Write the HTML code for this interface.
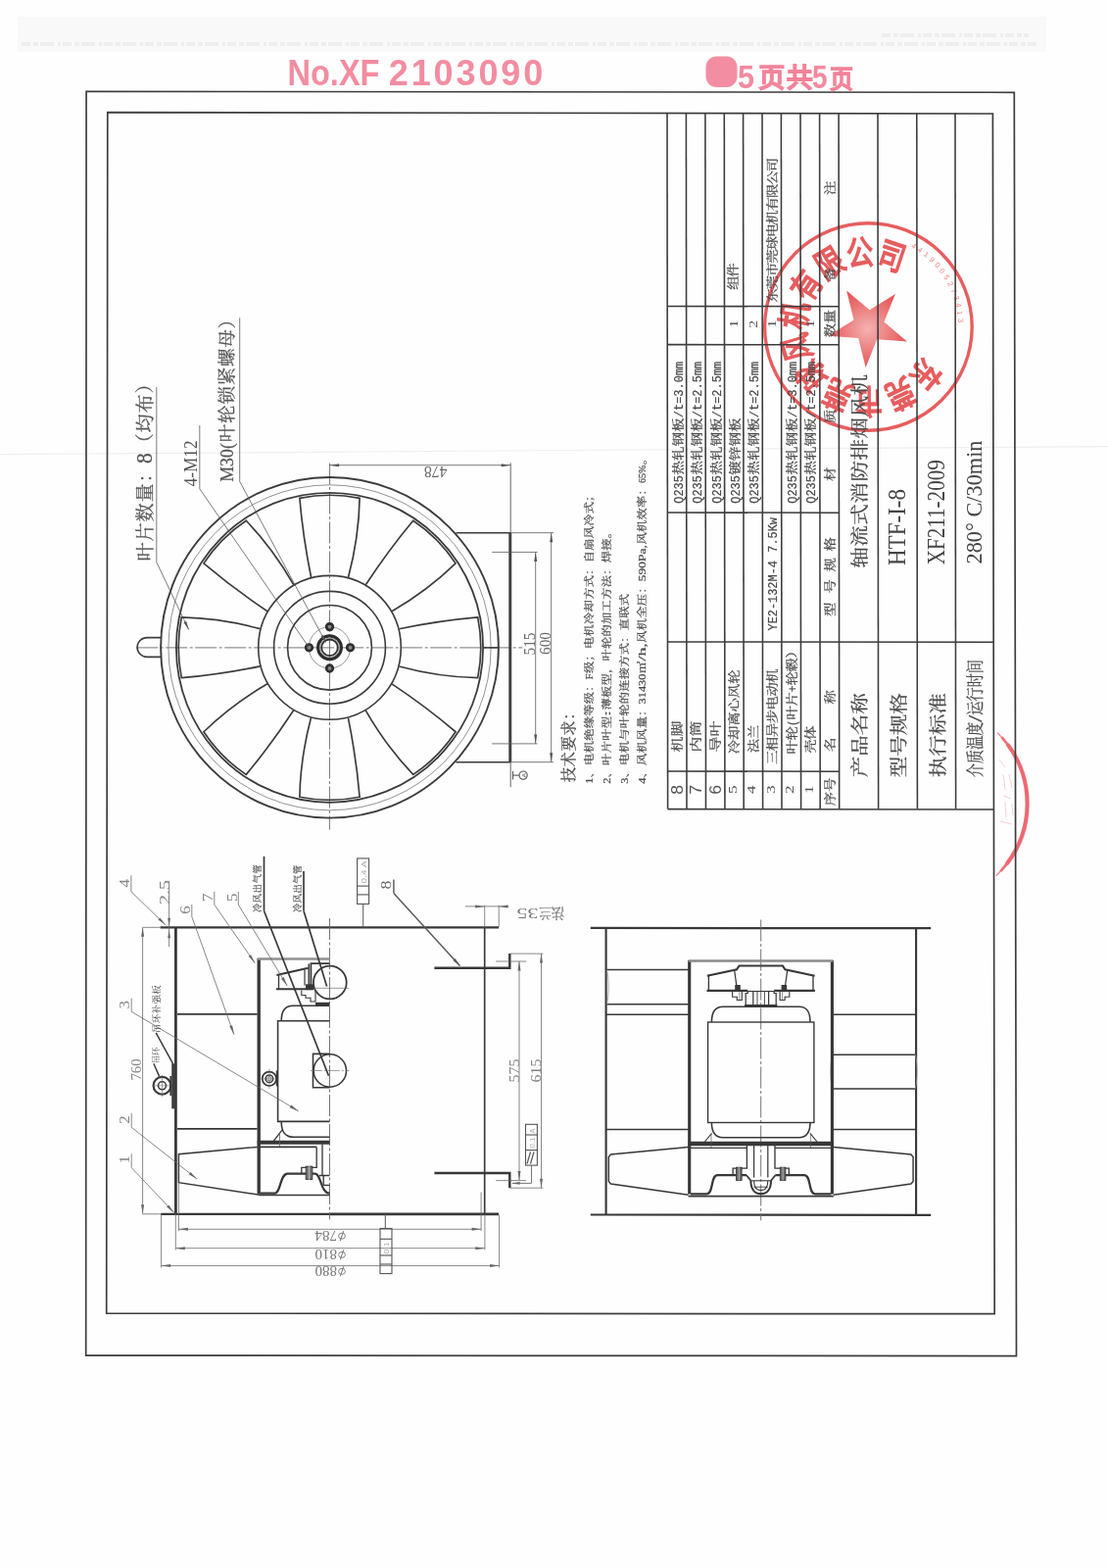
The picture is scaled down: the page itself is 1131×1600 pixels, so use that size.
<!DOCTYPE html>
<html lang="zh"><head><meta charset="utf-8"><title>XF2103090 - 5/5</title>
<style>html,body{margin:0;padding:0;background:#fff}svg{display:block;filter:blur(0.35px)}text{white-space:pre}</style>
</head><body>
<svg width="1131" height="1600" viewBox="0 0 1131 1600" fill="none" font-family="Liberation Serif, serif">
<defs><radialGradient id="starg" cx="0.5" cy="0.5" r="0.5"><stop offset="0" stop-color="#f3a3a3"/><stop offset="0.55" stop-color="#ea6464"/><stop offset="1" stop-color="#e03434"/></radialGradient></defs>
<rect width="1131" height="1600" fill="#fefefe"/>
<path d="M0 463.6L1131 455.6" stroke="#efeff2" stroke-width="1.2"/>
<rect x="18" y="17" width="1050" height="36" fill="#f9f9f9"/>
<g opacity="0.82">
<circle cx="886.4" cy="333.5" r="105.8" stroke="#e23a3c" stroke-width="3.36" fill="none"/>
<path d="M845.36 342.78L876.16 344.94L883.64 374.9L895.2 346.27L926.01 348.42L902.35 328.57L913.92 299.94L887.73 316.3L864.08 296.46L871.55 326.42z" fill="url(#starg)"/>
<g transform="translate(935.26 374.06) rotate(-230.3) scale(0.27 0.345)" fill="#e23a3c" stroke="#e23a3c" stroke-width="5"><text x="0" y="0" text-anchor="middle" font-family="Liberation Sans, Noto Sans CJK SC, sans-serif" font-size="100">东</text></g>
<g transform="translate(913.68 390.84) rotate(-205.44) scale(0.27 0.345)" fill="#e23a3c" stroke="#e23a3c" stroke-width="5"><text x="0" y="0" text-anchor="middle" font-family="Liberation Sans, Noto Sans CJK SC, sans-serif" font-size="100">莞</text></g>
<g transform="translate(887.04 397) rotate(-180.58) scale(0.27 0.345)" fill="#e23a3c" stroke="#e23a3c" stroke-width="5"><text x="0" y="0" text-anchor="middle" font-family="Liberation Sans, Noto Sans CJK SC, sans-serif" font-size="100">市</text></g>
<g transform="translate(860.29 391.38) rotate(-155.72) scale(0.27 0.345)" fill="#e23a3c" stroke="#e23a3c" stroke-width="5"><text x="0" y="0" text-anchor="middle" font-family="Liberation Sans, Noto Sans CJK SC, sans-serif" font-size="100">莞</text></g>
<g transform="translate(838.37 375.04) rotate(-130.86) scale(0.27 0.345)" fill="#e23a3c" stroke="#e23a3c" stroke-width="5"><text x="0" y="0" text-anchor="middle" font-family="Liberation Sans, Noto Sans CJK SC, sans-serif" font-size="100">球</text></g>
<g transform="translate(825.36 351) rotate(-106) scale(0.27 0.345)" fill="#e23a3c" stroke="#e23a3c" stroke-width="5"><text x="0" y="0" text-anchor="middle" font-family="Liberation Sans, Noto Sans CJK SC, sans-serif" font-size="100">风</text></g>
<g transform="translate(823.66 323.72) rotate(-81.14) scale(0.27 0.345)" fill="#e23a3c" stroke="#e23a3c" stroke-width="5"><text x="0" y="0" text-anchor="middle" font-family="Liberation Sans, Noto Sans CJK SC, sans-serif" font-size="100">机</text></g>
<g transform="translate(833.58 298.25) rotate(-56.28) scale(0.27 0.345)" fill="#e23a3c" stroke="#e23a3c" stroke-width="5"><text x="0" y="0" text-anchor="middle" font-family="Liberation Sans, Noto Sans CJK SC, sans-serif" font-size="100">有</text></g>
<g transform="translate(853.3 279.31) rotate(-31.42) scale(0.27 0.345)" fill="#e23a3c" stroke="#e23a3c" stroke-width="5"><text x="0" y="0" text-anchor="middle" font-family="Liberation Sans, Noto Sans CJK SC, sans-serif" font-size="100">限</text></g>
<g transform="translate(879.15 270.42) rotate(-6.56) scale(0.27 0.345)" fill="#e23a3c" stroke="#e23a3c" stroke-width="5"><text x="0" y="0" text-anchor="middle" font-family="Liberation Sans, Noto Sans CJK SC, sans-serif" font-size="100">公</text></g>
<g transform="translate(906.34 273.21) rotate(18.3) scale(0.27 0.345)" fill="#e23a3c" stroke="#e23a3c" stroke-width="5"><text x="0" y="0" text-anchor="middle" font-family="Liberation Sans, Noto Sans CJK SC, sans-serif" font-size="100">司</text></g>
<path id="serp" d="M929.59 252.27A92 92 0 0 1 967.63 376.69" />
<text font-family="Liberation Sans" font-size="7.5" fill="#e23a3c" opacity="0.8" letter-spacing="3.4"><textPath href="#serp">4419005273413</textPath></text>
</g>
<path d="M1018.39 747.96A101 101 0 0 1 1017.12 893.26" stroke="#ec6670" stroke-width="1.3" stroke-linecap="round" opacity="0.8"/>
<path d="M1023.24 753.08A101 101 0 0 1 1022.07 888.23" stroke="#ec6670" stroke-width="2.8" stroke-linecap="round" opacity="0.85"/>
<path d="M1029.31 760.63A101 101 0 0 1 1028.26 880.78" stroke="#ec6670" stroke-width="4.2" stroke-linecap="round" opacity="0.9"/>
<g stroke="#f29aa2" stroke-width="0.8" opacity="0.6"><path d="M1020 775l6 8M1024 790l2 16M1030 790l3 14M1024 812l8 3M1026 818l1 16M1033 820l1 12M1021 838l12 3"/></g>
<path d="M22 45H1058M900 36H1050" stroke="#eeeeee" stroke-width="4" stroke-dasharray="9 3 5 2 14 4 3 2"/>
<path d="M88.1 93.3L1035.3 94.3L1037.5 1383.6L87.7 1383.1z" stroke="#3c3c3c" stroke-width="1.68" fill="none"/>
<path d="M109.8 114.7L1013.4 116L1015.2 1340.7L108.7 1340.2z" stroke="#3c3c3c" stroke-width="1.68" fill="none"/>
<text transform="translate(293.5 87) rotate(0)" font-family="Liberation Sans" font-size="36" textLength="94" lengthAdjust="spacingAndGlyphs" fill="#f2849a" font-weight="bold" opacity="0.92">No.XF</text>
<text transform="translate(396.8 87) rotate(0)" font-family="Liberation Sans" font-size="36" textLength="157.5" lengthAdjust="spacing" fill="#f2849a" font-weight="bold" opacity="0.92">2103090</text>
<rect x="720.5" y="57.5" width="32" height="31.5" rx="11" ry="11" fill="#f2849a" opacity="0.92"/>
<text transform="translate(753 90) rotate(0)" font-family="Liberation Sans" font-size="34" textLength="17" lengthAdjust="spacingAndGlyphs" fill="#f2849a" font-weight="bold" opacity="0.95">5</text>
<g transform="translate(773.5 89) rotate(0) scale(0.2700 0.2700)" fill="#f2849a" stroke="#f2849a" stroke-width="7">
<text x="2.78 108.33" y="0" font-family="Liberation Sans, Noto Sans CJK SC, sans-serif" font-size="100">页共</text>
</g>
<text transform="translate(829 90) rotate(0)" font-family="Liberation Sans" font-size="34" textLength="15.5" lengthAdjust="spacingAndGlyphs" fill="#f2849a" font-weight="bold" opacity="0.95">5</text>
<g transform="translate(847 89.5) rotate(0) scale(0.2392 0.2600)" fill="#f2849a" stroke="#f2849a" stroke-width="7">
<text x="0" y="0" font-family="Liberation Sans, Noto Sans CJK SC, sans-serif" font-size="100">页</text>
</g>
<path d="M681 115.6L681.6 825.6" stroke="#3c3c3c" stroke-width="1.57"/>
<path d="M700.4 115.6L701 825.6" stroke="#3c3c3c" stroke-width="1.57"/>
<path d="M719.9 115.6L720.5 825.6" stroke="#3c3c3c" stroke-width="1.57"/>
<path d="M739.3 115.6L739.9 825.6" stroke="#3c3c3c" stroke-width="1.57"/>
<path d="M758.6 115.6L759.2 825.6" stroke="#3c3c3c" stroke-width="1.57"/>
<path d="M778 115.6L778.6 825.6" stroke="#3c3c3c" stroke-width="1.57"/>
<path d="M797.4 115.6L798 825.6" stroke="#3c3c3c" stroke-width="1.57"/>
<path d="M817 115.6L817.6 825.6" stroke="#3c3c3c" stroke-width="1.57"/>
<path d="M836.6 115.6L837.2 825.6" stroke="#3c3c3c" stroke-width="1.57"/>
<path d="M856.1 115.6L856.7 825.6" stroke="#3c3c3c" stroke-width="1.57"/>
<path d="M896 115.6L896.6 825.6" stroke="#3c3c3c" stroke-width="1.57"/>
<path d="M935.8 115.6L936.4 825.6" stroke="#3c3c3c" stroke-width="1.57"/>
<path d="M975 115.6L975.6 825.6" stroke="#3c3c3c" stroke-width="1.57"/>
<path d="M681.6 825.6L1014.6 826" stroke="#3c3c3c" stroke-width="1.57"/>
<path d="M681.3 312.5L856.3 312.7" stroke="#3c3c3c" stroke-width="1.57"/>
<path d="M681.3 351.6L856.3 351.8" stroke="#3c3c3c" stroke-width="1.57"/>
<path d="M681.3 523L856.3 523.2" stroke="#3c3c3c" stroke-width="1.57"/>
<path d="M681.3 787L856.3 787.2" stroke="#3c3c3c" stroke-width="1.57"/>
<path d="M681.5 655L1014.4 655.3" stroke="#3c3c3c" stroke-width="1.57"/>
<text transform="translate(696.9 810.8) rotate(-90)" font-family="Liberation Sans" font-size="17" textLength="9.8" lengthAdjust="spacingAndGlyphs" fill="#555">8</text>
<text transform="translate(716.3 810.8) rotate(-90)" font-family="Liberation Sans" font-size="17" textLength="9.8" lengthAdjust="spacingAndGlyphs" fill="#555">7</text>
<text transform="translate(735.9 810.8) rotate(-90)" font-family="Liberation Sans" font-size="17" textLength="9.8" lengthAdjust="spacingAndGlyphs" fill="#555">6</text>
<text transform="translate(752 810) rotate(-90)" font-family="Liberation Serif" font-size="13.5" textLength="8.6" lengthAdjust="spacingAndGlyphs" fill="#555">5</text>
<text transform="translate(771.4 810) rotate(-90)" font-family="Liberation Serif" font-size="13.5" textLength="8.6" lengthAdjust="spacingAndGlyphs" fill="#555">4</text>
<text transform="translate(790.8 810) rotate(-90)" font-family="Liberation Serif" font-size="13.5" textLength="8.6" lengthAdjust="spacingAndGlyphs" fill="#555">3</text>
<text transform="translate(810.2 810) rotate(-90)" font-family="Liberation Serif" font-size="13.5" textLength="8.6" lengthAdjust="spacingAndGlyphs" fill="#555">2</text>
<text transform="translate(829.7 810) rotate(-90)" font-family="Liberation Serif" font-size="13.5" textLength="8.6" lengthAdjust="spacingAndGlyphs" fill="#555">1</text>
<g transform="translate(695.5 767.5) rotate(-90) scale(0.1600 0.1250)" fill="#4a4a4a" stroke="#4a4a4a" stroke-width="1.76">
<text x="0 100" y="0" font-family="Liberation Serif, Noto Serif CJK SC, serif" font-size="100">机脚</text>
</g>
<g transform="translate(715 767.5) rotate(-90) scale(0.1600 0.1250)" fill="#4a4a4a" stroke="#4a4a4a" stroke-width="1.76">
<text x="0 100" y="0" font-family="Liberation Serif, Noto Serif CJK SC, serif" font-size="100">内筒</text>
</g>
<g transform="translate(735 767.5) rotate(-90) scale(0.1600 0.1250)" fill="#4a4a4a" stroke="#4a4a4a" stroke-width="1.76">
<text x="0 100" y="0" font-family="Liberation Serif, Noto Serif CJK SC, serif" font-size="100">导叶</text>
</g>
<g transform="translate(754.4 769.3) rotate(-90) scale(0.1440 0.1200)" fill="#4a4a4a" stroke="#4a4a4a" stroke-width="1.83">
<text x="-0.35 98.96 198.26 297.57 396.88 496.18" y="0" font-family="Liberation Serif, Noto Serif CJK SC, serif" font-size="100">冷却离心风轮</text>
</g>
<g transform="translate(773.8 768.3) rotate(-90) scale(0.1440 0.1200)" fill="#4a4a4a" stroke="#4a4a4a" stroke-width="1.83">
<text x="-0.35 98.96" y="0" font-family="Liberation Serif, Noto Serif CJK SC, serif" font-size="100">法兰</text>
</g>
<g transform="translate(793.4 779.8) rotate(-90) scale(0.1440 0.1200)" fill="#4a4a4a" stroke="#4a4a4a" stroke-width="1.83">
<text x="-1.74 94.79 191.32 287.85 384.38 480.9 577.43" y="0" font-family="Liberation Serif, Noto Serif CJK SC, serif" font-size="100">三相异步电动机</text>
</g>
<g transform="translate(812.8 769.3) rotate(-90) scale(0.1440 0.1200)" fill="#4a4a4a" stroke="#4a4a4a" stroke-width="1.83">
<text x="-1.39 95.83" y="0" font-family="Liberation Serif, Noto Serif CJK SC, serif" font-size="100">叶轮</text>
<text x="194.44" font-family="Liberation Mono" font-size="100" textLength="47.88" lengthAdjust="spacingAndGlyphs">(</text>
<text x="241.67 338.89" y="0" font-family="Liberation Serif, Noto Serif CJK SC, serif" font-size="100">叶片</text>
<text x="437.5" font-family="Liberation Mono" font-size="100" textLength="47.88" lengthAdjust="spacingAndGlyphs">+</text>
<text x="484.72 581.94 679.17" y="0" font-family="Liberation Serif, Noto Serif CJK SC, serif" font-size="100">轮毂）</text>
</g>
<g transform="translate(832.2 768.3) rotate(-90) scale(0.1440 0.1200)" fill="#4a4a4a" stroke="#4a4a4a" stroke-width="1.83">
<text x="-2.78 91.67" y="0" font-family="Liberation Serif, Noto Serif CJK SC, serif" font-size="100">壳体</text>
</g>
<g transform="translate(696.6 513.8) rotate(-90) scale(0.1440 0.1200)" fill="#4a4a4a" stroke="#4a4a4a" stroke-width="1.83">
<text x="0" font-family="Liberation Mono" font-size="100" textLength="199.74" lengthAdjust="spacingAndGlyphs">Q235</text>
<text x="203.47 304.86 406.25 507.64" y="0" font-family="Liberation Serif, Noto Serif CJK SC, serif" font-size="100">热轧钢板</text>
<text x="608.33" font-family="Liberation Mono" font-size="100" textLength="399.47" lengthAdjust="spacingAndGlyphs">/t=3.0mm</text>
</g>
<g transform="translate(716 513.8) rotate(-90) scale(0.1440 0.1200)" fill="#4a4a4a" stroke="#4a4a4a" stroke-width="1.83">
<text x="0" font-family="Liberation Mono" font-size="100" textLength="199.74" lengthAdjust="spacingAndGlyphs">Q235</text>
<text x="203.47 304.86 406.25 507.64" y="0" font-family="Liberation Serif, Noto Serif CJK SC, serif" font-size="100">热轧钢板</text>
<text x="608.33" font-family="Liberation Mono" font-size="100" textLength="399.47" lengthAdjust="spacingAndGlyphs">/t=2.5mm</text>
</g>
<g transform="translate(735.6 513.8) rotate(-90) scale(0.1440 0.1200)" fill="#4a4a4a" stroke="#4a4a4a" stroke-width="1.83">
<text x="0" font-family="Liberation Mono" font-size="100" textLength="199.74" lengthAdjust="spacingAndGlyphs">Q235</text>
<text x="203.47 304.86 406.25 507.64" y="0" font-family="Liberation Serif, Noto Serif CJK SC, serif" font-size="100">热轧钢板</text>
<text x="608.33" font-family="Liberation Mono" font-size="100" textLength="399.47" lengthAdjust="spacingAndGlyphs">/t=2.5mm</text>
</g>
<g transform="translate(754.6 513.8) rotate(-90) scale(0.1440 0.1200)" fill="#4a4a4a" stroke="#4a4a4a" stroke-width="1.83">
<text x="0" font-family="Liberation Mono" font-size="100" textLength="199.74" lengthAdjust="spacingAndGlyphs">Q235</text>
<text x="203.47 304.86 406.25 507.64" y="0" font-family="Liberation Serif, Noto Serif CJK SC, serif" font-size="100">镀锌钢板</text>
</g>
<g transform="translate(774 513.8) rotate(-90) scale(0.1440 0.1200)" fill="#4a4a4a" stroke="#4a4a4a" stroke-width="1.83">
<text x="0" font-family="Liberation Mono" font-size="100" textLength="199.74" lengthAdjust="spacingAndGlyphs">Q235</text>
<text x="203.47 304.86 406.25 507.64" y="0" font-family="Liberation Serif, Noto Serif CJK SC, serif" font-size="100">热轧钢板</text>
<text x="608.33" font-family="Liberation Mono" font-size="100" textLength="399.47" lengthAdjust="spacingAndGlyphs">/t=2.5mm</text>
</g>
<g transform="translate(812.8 513.8) rotate(-90) scale(0.1440 0.1200)" fill="#4a4a4a" stroke="#4a4a4a" stroke-width="1.83">
<text x="0" font-family="Liberation Mono" font-size="100" textLength="199.74" lengthAdjust="spacingAndGlyphs">Q235</text>
<text x="203.47 304.86 406.25 507.64" y="0" font-family="Liberation Serif, Noto Serif CJK SC, serif" font-size="100">热轧钢板</text>
<text x="608.33" font-family="Liberation Mono" font-size="100" textLength="399.47" lengthAdjust="spacingAndGlyphs">/t=3.0mm</text>
</g>
<g transform="translate(832.3 513.8) rotate(-90) scale(0.1440 0.1200)" fill="#4a4a4a" stroke="#4a4a4a" stroke-width="1.83">
<text x="0" font-family="Liberation Mono" font-size="100" textLength="199.74" lengthAdjust="spacingAndGlyphs">Q235</text>
<text x="203.47 304.86 406.25 507.64" y="0" font-family="Liberation Serif, Noto Serif CJK SC, serif" font-size="100">热轧钢板</text>
<text x="608.33" font-family="Liberation Mono" font-size="100" textLength="399.47" lengthAdjust="spacingAndGlyphs">/t=2.5mm</text>
</g>
<g transform="translate(793 643.5) rotate(-90) scale(0.1440 0.1200)" fill="#4a4a4a" stroke="#4a4a4a" stroke-width="1.83">
<text x="0" font-family="Liberation Mono" font-size="100" textLength="495.92" lengthAdjust="spacingAndGlyphs">YE2-132M-4</text>
<text x="553.82" font-family="Liberation Mono" font-size="100" textLength="247.96" lengthAdjust="spacingAndGlyphs">7.5Kw</text>
</g>
<text transform="translate(753.4 334.5) rotate(-90)" font-family="Liberation Serif" font-size="13.5" textLength="8" lengthAdjust="spacingAndGlyphs" fill="#555">1</text>
<text transform="translate(773 334.8) rotate(-90)" font-family="Liberation Serif" font-size="13.5" textLength="8" lengthAdjust="spacingAndGlyphs" fill="#555">2</text>
<text transform="translate(792.2 334.5) rotate(-90)" font-family="Liberation Serif" font-size="13.5" textLength="8" lengthAdjust="spacingAndGlyphs" fill="#555">1</text>
<text transform="translate(831.2 334.5) rotate(-90)" font-family="Liberation Serif" font-size="13.5" textLength="8" lengthAdjust="spacingAndGlyphs" fill="#555">1</text>
<g transform="translate(753.2 295) rotate(-90) scale(0.1440 0.1200)" fill="#4a4a4a" stroke="#4a4a4a" stroke-width="1.83">
<text x="-4.86 85.42" y="0" font-family="Liberation Serif, Noto Serif CJK SC, serif" font-size="100">组件</text>
</g>
<g transform="translate(793 308.2) rotate(-90) scale(0.1440 0.1200)" fill="#4a4a4a" stroke="#4a4a4a" stroke-width="1.83">
<text x="-3.65 89.06 181.77 274.48 367.19 459.9 552.6 645.31 738.02 830.73 923.44" y="0" font-family="Liberation Serif, Noto Serif CJK SC, serif" font-size="100">东莞市莞球电机有限公司</text>
</g>
<g transform="translate(851.6 822.3) rotate(-90) scale(0.1440 0.1200)" fill="#4a4a4a" stroke="#4a4a4a" stroke-width="1.83">
<text x="-0.35 98.96" y="0" font-family="Liberation Serif, Noto Serif CJK SC, serif" font-size="100">序号</text>
</g>
<g transform="translate(851.6 767) rotate(-90) scale(0.1440 0.1200)" fill="#4a4a4a" stroke="#4a4a4a" stroke-width="1.83">
<text x="0" y="0" font-family="Liberation Serif, Noto Serif CJK SC, serif" font-size="100">名</text>
</g>
<g transform="translate(851.6 718.5) rotate(-90) scale(0.1440 0.1200)" fill="#4a4a4a" stroke="#4a4a4a" stroke-width="1.83">
<text x="0" y="0" font-family="Liberation Serif, Noto Serif CJK SC, serif" font-size="100">称</text>
</g>
<g transform="translate(851.6 629) rotate(-90) scale(0.1440 0.1200)" fill="#4a4a4a" stroke="#4a4a4a" stroke-width="1.83">
<text x="0" y="0" font-family="Liberation Serif, Noto Serif CJK SC, serif" font-size="100">型</text>
</g>
<g transform="translate(851.6 605.5) rotate(-90) scale(0.1440 0.1200)" fill="#4a4a4a" stroke="#4a4a4a" stroke-width="1.83">
<text x="0" y="0" font-family="Liberation Serif, Noto Serif CJK SC, serif" font-size="100">号</text>
</g>
<g transform="translate(851.6 583.5) rotate(-90) scale(0.1440 0.1200)" fill="#4a4a4a" stroke="#4a4a4a" stroke-width="1.83">
<text x="0" y="0" font-family="Liberation Serif, Noto Serif CJK SC, serif" font-size="100">规</text>
</g>
<g transform="translate(851.6 562.5) rotate(-90) scale(0.1440 0.1200)" fill="#4a4a4a" stroke="#4a4a4a" stroke-width="1.83">
<text x="0" y="0" font-family="Liberation Serif, Noto Serif CJK SC, serif" font-size="100">格</text>
</g>
<g transform="translate(851.6 491) rotate(-90) scale(0.1440 0.1200)" fill="#4a4a4a" stroke="#4a4a4a" stroke-width="1.83">
<text x="0" y="0" font-family="Liberation Serif, Noto Serif CJK SC, serif" font-size="100">材</text>
</g>
<g transform="translate(851.6 432) rotate(-90) scale(0.1440 0.1200)" fill="#4a4a4a" stroke="#4a4a4a" stroke-width="1.83">
<text x="0" y="0" font-family="Liberation Serif, Noto Serif CJK SC, serif" font-size="100">质</text>
</g>
<g transform="translate(851.6 344) rotate(-90) scale(0.1440 0.1200)" fill="#4a4a4a" stroke="#4a4a4a" stroke-width="1.83">
<text x="-1.39 95.83" y="0" font-family="Liberation Serif, Noto Serif CJK SC, serif" font-size="100">数量</text>
</g>
<g transform="translate(851.6 287.3) rotate(-90) scale(0.1440 0.1200)" fill="#4a4a4a" stroke="#4a4a4a" stroke-width="1.83">
<text x="0" y="0" font-family="Liberation Serif, Noto Serif CJK SC, serif" font-size="100">备</text>
</g>
<g transform="translate(851.6 199) rotate(-90) scale(0.1440 0.1200)" fill="#4a4a4a" stroke="#4a4a4a" stroke-width="1.83">
<text x="0" y="0" font-family="Liberation Serif, Noto Serif CJK SC, serif" font-size="100">注</text>
</g>
<g transform="translate(884 793.3) rotate(-90) scale(0.2160 0.1800)" fill="#4a4a4a" stroke="#4a4a4a" stroke-width="1.22">
<text x="-0.23 99.31 198.84 298.38" y="0" font-family="Liberation Serif, Noto Serif CJK SC, serif" font-size="100">产品名称</text>
</g>
<g transform="translate(923.8 793.3) rotate(-90) scale(0.2160 0.1800)" fill="#4a4a4a" stroke="#4a4a4a" stroke-width="1.22">
<text x="-0.23 99.31 198.84 298.38" y="0" font-family="Liberation Serif, Noto Serif CJK SC, serif" font-size="100">型号规格</text>
</g>
<g transform="translate(963.6 793.3) rotate(-90) scale(0.2160 0.1800)" fill="#4a4a4a" stroke="#4a4a4a" stroke-width="1.22">
<text x="-0.23 99.31 198.84 298.38" y="0" font-family="Liberation Serif, Noto Serif CJK SC, serif" font-size="100">执行标准</text>
</g>
<g transform="translate(1002 793.3) rotate(-90) scale(0.1422 0.1800)" fill="#4a4a4a" stroke="#4a4a4a" stroke-width="1.22">
<text x="-0.25 99.26 198.77 298.28" y="0" font-family="Liberation Serif, Noto Serif CJK SC, serif" font-size="100">介质温度</text>
<text x="398.03" font-family="Liberation Serif" font-size="100" textLength="49.01" lengthAdjust="spacingAndGlyphs">/</text>
<text x="447.54 547.05 646.55 746.06" y="0" font-family="Liberation Serif, Noto Serif CJK SC, serif" font-size="100">运行时间</text>
</g>
<g transform="translate(884 580) rotate(-90) scale(0.2160 0.1800)" fill="#4a4a4a" stroke="#4a4a4a" stroke-width="1.22">
<text x="1.04 103.13 205.21 307.29 409.38 511.46 613.54 715.63 817.71" y="0" font-family="Liberation Serif, Noto Serif CJK SC, serif" font-size="100">轴流式消防排烟风机</text>
</g>
<text transform="translate(924.4 577) rotate(-90)" font-family="Liberation Serif" font-size="25" textLength="78" lengthAdjust="spacingAndGlyphs" fill="#444">HTF-I-8</text>
<text transform="translate(964.2 576.2) rotate(-90)" font-family="Liberation Serif" font-size="25" textLength="107" lengthAdjust="spacingAndGlyphs" fill="#444">XF211-2009</text>
<text transform="translate(1001.8 575.5) rotate(-90)" font-family="Liberation Serif" font-size="24" textLength="126" lengthAdjust="spacingAndGlyphs" fill="#444">280° C/30min</text>
<path d="M139.2 660.9L533.3 660.9" stroke="#666" stroke-width="0.9" stroke-dasharray="22 2.5 3 2.5"/>
<path d="M336.6 472.5L336.4 846.7" stroke="#666" stroke-width="0.9" stroke-dasharray="22 2.5 3 2.5"/>
<ellipse cx="336.5" cy="660.8" rx="172.4" ry="173.8" stroke="#3c3c3c" stroke-width="1.9" fill="none"/>
<ellipse cx="336.5" cy="660.8" rx="164.6" ry="166" stroke="#777" stroke-width="0.8" fill="none"/>
<ellipse cx="336.5" cy="660.8" rx="156.6" ry="158" stroke="#3c3c3c" stroke-width="1.8" fill="none"/>
<ellipse cx="336.5" cy="660.8" rx="72.81" ry="73.4" stroke="#3c3c3c" stroke-width="1.6" fill="none"/>
<ellipse cx="336.5" cy="660.8" rx="56.94" ry="57.4" stroke="#3c3c3c" stroke-width="1.6" fill="none"/>
<ellipse cx="336.5" cy="660.8" rx="42.95" ry="43.3" stroke="#3c3c3c" stroke-width="1.6" fill="none"/>
<circle cx="336.5" cy="660.8" r="21.2" stroke="#666" stroke-width="0.67" fill="none"/>
<circle cx="357.53" cy="660.8" r="3.3" stroke="#2e2e2e" stroke-width="2.69" fill="#888"/>
<circle cx="336.5" cy="639.6" r="3.3" stroke="#2e2e2e" stroke-width="2.69" fill="#888"/>
<circle cx="315.47" cy="660.8" r="3.3" stroke="#2e2e2e" stroke-width="2.69" fill="#888"/>
<circle cx="336.5" cy="682" r="3.3" stroke="#2e2e2e" stroke-width="2.69" fill="#888"/>
<circle cx="336.5" cy="660.8" r="11.9" stroke="#2e2e2e" stroke-width="3.14" fill="none"/>
<circle cx="336.5" cy="660.8" r="9.7" stroke="#999" stroke-width="0.9" fill="none"/>
<circle cx="336.5" cy="660.8" r="8.3" stroke="#2e2e2e" stroke-width="1.79" fill="none"/>
<path d="M493.2 660.9L508.8 660.9" stroke="#3c3c3c" stroke-width="1.57"/>
<path d="M317.62 589.29Q309.25 548.1 305.88 508.39A154.26 155.5 0 0 1 367.12 508.39Q366.28 548.75 355.5 589.32" stroke="#3c3c3c" stroke-width="1.68" fill="none"/>
<path d="M272.99 623.69Q238.18 600.54 207.94 574.86A154.26 155.5 0 0 1 251.25 531.21Q278.96 560.34 299.8 596.71" stroke="#3c3c3c" stroke-width="1.68" fill="none"/>
<path d="M265.56 679.83Q224.7 688.27 185.31 691.67A154.26 155.5 0 0 1 185.31 629.93Q225.35 630.78 265.59 641.65" stroke="#3c3c3c" stroke-width="1.68" fill="none"/>
<path d="M299.69 724.82Q276.72 759.92 251.25 790.39A154.26 155.5 0 0 1 207.94 746.74Q236.84 718.8 272.93 697.8" stroke="#3c3c3c" stroke-width="1.68" fill="none"/>
<path d="M355.38 732.31Q363.75 773.5 367.12 813.21A154.26 155.5 0 0 1 305.88 813.21Q306.72 772.85 317.5 732.28" stroke="#3c3c3c" stroke-width="1.68" fill="none"/>
<path d="M400.01 697.91Q434.82 721.06 465.06 746.74A154.26 155.5 0 0 1 421.75 790.39Q394.04 761.26 373.2 724.89" stroke="#3c3c3c" stroke-width="1.68" fill="none"/>
<path d="M407.44 641.77Q448.3 633.33 487.69 629.93A154.26 155.5 0 0 1 487.69 691.67Q447.65 690.82 407.41 679.95" stroke="#3c3c3c" stroke-width="1.68" fill="none"/>
<path d="M373.31 596.78Q396.28 561.68 421.75 531.21A154.26 155.5 0 0 1 465.06 574.86Q436.16 602.8 400.07 623.8" stroke="#3c3c3c" stroke-width="1.68" fill="none"/>
<path d="M164.3 650.6H150A9.9 9.9 0 0 0 150 670.4H164.3" stroke="#3c3c3c" stroke-width="1.57" fill="none"/>
<path d="M465.4 543.7L521 543.7" stroke="#3c3c3c" stroke-width="1.57"/>
<path d="M465.4 777.7L521 777.7" stroke="#3c3c3c" stroke-width="1.57"/>
<path d="M520.8 543.7L520.8 777.7" stroke="#333" stroke-width="2.91"/>
<path d="M521.2 472.3L521.2 803.2" stroke="#555" stroke-width="0.9"/>
<path d="M521 543.7L565.1 543.7" stroke="#555" stroke-width="0.78"/>
<path d="M521 777.7L565.1 777.7" stroke="#555" stroke-width="0.78"/>
<path d="M502.1 563.4L548.5 563.4" stroke="#555" stroke-width="0.78"/>
<path d="M502.1 758.9L548.5 758.9" stroke="#555" stroke-width="0.78"/>
<path d="M546.7 563.4L546.7 758.9" stroke="#555" stroke-width="0.78"/>
<path d="M546.7 563.4L548.2 572.9L545.2 572.9z" fill="#555"/>
<path d="M546.7 758.9L545.2 749.4L548.2 749.4z" fill="#555"/>
<path d="M562.7 543.7L562.7 777.7" stroke="#555" stroke-width="0.78"/>
<path d="M562.7 543.7L564.2 553.2L561.2 553.2z" fill="#555"/>
<path d="M562.7 777.7L561.2 768.2L564.2 768.2z" fill="#555"/>
<text transform="translate(546 668.5) rotate(-90)" font-family="Liberation Serif" font-size="16.8" textLength="23" lengthAdjust="spacingAndGlyphs" fill="#6a6a6a">515</text>
<text transform="translate(562 668) rotate(-90)" font-family="Liberation Serif" font-size="16.8" textLength="23" lengthAdjust="spacingAndGlyphs" fill="#6a6a6a">600</text>
<path d="M336.5 474.7L521.2 474.7" stroke="#555" stroke-width="0.78"/>
<path d="M336.6 474.7L346.1 473.2L346.1 476.2z" fill="#555"/>
<path d="M521.2 474.7L511.7 476.2L511.7 473.2z" fill="#555"/>
<text transform="translate(456.4 476) rotate(180)" font-family="Liberation Serif" font-size="16.5" textLength="23.6" lengthAdjust="spacingAndGlyphs" fill="#6a6a6a">478</text>
<path d="M523.5 786.8L523.5 795.4" stroke="#555" stroke-width="1.12"/>
<path d="M523.5 791.1L530 791.1" stroke="#555" stroke-width="1.12"/>
<circle cx="534.1" cy="791.1" r="4.1" stroke="#555" stroke-width="1.12" fill="none"/>
<text transform="translate(536.5 793.4) rotate(-90)" font-family="Liberation Sans" font-size="6" textLength="4.6" lengthAdjust="spacingAndGlyphs" fill="#555">A</text>
<path d="M159.8 395.1L159.8 573.7" stroke="#555" stroke-width="0.78"/>
<path d="M159.8 573.7L192.6 642.4" stroke="#555" stroke-width="0.78"/>
<path d="M192.9 643L187.45 635.07L190.16 633.78z" fill="#555"/>
<g transform="translate(155.2 572.9) rotate(-90) scale(0.1920 0.1920)" fill="#555" stroke="#555" stroke-width="1.15">
<text x="2.08 106.25 210.42 314.58 418.75" y="0" font-family="Liberation Serif, Noto Serif CJK SC, serif" font-size="100">叶片数量：</text>
<text x="520.83" font-family="Liberation Serif" font-size="115" textLength="56.43" lengthAdjust="spacingAndGlyphs">8</text>
<text x="580.21 684.38 788.54 892.71" y="0" font-family="Liberation Serif, Noto Serif CJK SC, serif" font-size="100">（均布）</text>
</g>
<path d="M203.8 434.1L203.8 498.8" stroke="#555" stroke-width="0.78"/>
<path d="M203.8 498.8L315.3 660.5" stroke="#555" stroke-width="0.78"/>
<text transform="translate(201.3 496.3) rotate(-90)" font-family="Liberation Serif" font-size="19" textLength="46.8" lengthAdjust="spacingAndGlyphs" fill="#555">4-M12</text>
<path d="M244.7 324.4L244.7 491.3" stroke="#555" stroke-width="0.78"/>
<path d="M244.7 491.3L332.5 655.5" stroke="#555" stroke-width="0.78"/>
<path d="M332.8 656L327.56 649.16L330.03 647.84z" fill="#555"/>
<g transform="translate(238 491.7) rotate(-90) scale(0.1860 0.1860)" fill="#555" stroke="#555" stroke-width="1.18">
<text x="0" font-family="Liberation Serif" font-size="100" textLength="212.59" lengthAdjust="spacingAndGlyphs">M30(</text>
<text x="217.71 321.47 425.24 529 632.76 736.53 840.29" y="0" font-family="Liberation Serif, Noto Serif CJK SC, serif" font-size="100">叶轮锁紧螺母）</text>
</g>
<g transform="translate(585.9 798.6) rotate(-90) scale(0.1540 0.1540)" fill="#4a4a4a" stroke="#4a4a4a" stroke-width="1.43">
<text x="1.62 104.87 208.12 311.36 414.61" y="0" font-family="Liberation Serif, Noto Serif CJK SC, serif" font-size="100">技术要求：</text>
</g>
<g transform="translate(605 799.8) rotate(-90) scale(0.1224 0.1020)" fill="#4d4d4d" stroke="#4d4d4d" stroke-width="2.16">
<text x="0" font-family="Liberation Serif" font-size="105" textLength="50.38" lengthAdjust="spacingAndGlyphs">1</text>
<text x="52.29 154.58 256.86 359.15 461.44 563.73 666.01 768.3" y="0" font-family="Liberation Serif, Noto Serif CJK SC, serif" font-size="100">、电机绝缘等级：</text>
<text x="869.44" font-family="Liberation Serif" font-size="105" textLength="50.38" lengthAdjust="spacingAndGlyphs">F</text>
<text x="921.73 1024.02 1126.31 1228.59 1330.88 1433.17 1535.46 1637.75 1740.03 1842.32 1944.61 2046.9 2149.18 2251.47 2353.76" y="0" font-family="Liberation Serif, Noto Serif CJK SC, serif" font-size="100">级；电机冷却方式：自扇风冷式；</text>
</g>
<g transform="translate(622.8 799.8) rotate(-90) scale(0.1224 0.1020)" fill="#4d4d4d" stroke="#4d4d4d" stroke-width="2.16">
<text x="0" font-family="Liberation Serif" font-size="105" textLength="50.38" lengthAdjust="spacingAndGlyphs">2</text>
<text x="52.29 154.58 256.86 359.15 461.44" y="0" font-family="Liberation Serif, Noto Serif CJK SC, serif" font-size="100">、叶片叶型</text>
<text x="562.58" font-family="Liberation Serif" font-size="105" textLength="50.38" lengthAdjust="spacingAndGlyphs">:</text>
<text x="614.87 717.16 819.44 921.73 1024.02 1126.31 1228.59 1330.88 1433.17 1535.46 1637.75 1740.03 1842.32 1944.61 2046.9" y="0" font-family="Liberation Serif, Noto Serif CJK SC, serif" font-size="100">薄板型，叶轮的加工方法：焊接。</text>
</g>
<g transform="translate(640.7 799.8) rotate(-90) scale(0.1224 0.1020)" fill="#4d4d4d" stroke="#4d4d4d" stroke-width="2.16">
<text x="0" font-family="Liberation Serif" font-size="105" textLength="50.38" lengthAdjust="spacingAndGlyphs">3</text>
<text x="52.29 154.58 256.86 359.15 461.44 563.73 666.01 768.3 870.59 972.88 1075.16 1177.45 1279.74 1382.03 1484.31" y="0" font-family="Liberation Serif, Noto Serif CJK SC, serif" font-size="100">、电机与叶轮的连接方式：直联式</text>
</g>
<g transform="translate(658.6 799.8) rotate(-90) scale(0.1224 0.1020)" fill="#4d4d4d" stroke="#4d4d4d" stroke-width="2.16">
<text x="0" font-family="Liberation Serif" font-size="105" textLength="50.38" lengthAdjust="spacingAndGlyphs">4</text>
<text x="52.29 154.58 256.86 359.15 461.44 563.73" y="0" font-family="Liberation Serif, Noto Serif CJK SC, serif" font-size="100">、风机风量：</text>
<text x="664.87" font-family="Liberation Serif" font-size="105" textLength="251.88" lengthAdjust="spacingAndGlyphs">31430</text>
<text x="921.73" y="0" font-family="Liberation Serif, Noto Serif CJK SC, serif" font-size="100">㎡</text>
<text x="1022.88" font-family="Liberation Serif" font-size="105" textLength="151.13" lengthAdjust="spacingAndGlyphs">/h,</text>
<text x="1177.45 1279.74 1382.03 1484.31 1586.6" y="0" font-family="Liberation Serif, Noto Serif CJK SC, serif" font-size="100">风机全压：</text>
<text x="1687.75" font-family="Liberation Serif" font-size="105" textLength="302.26" lengthAdjust="spacingAndGlyphs">590Pa,</text>
<text x="1995.75 2098.04 2200.33 2302.61 2404.9" y="0" font-family="Liberation Serif, Noto Serif CJK SC, serif" font-size="100">风机效率：</text>
<text x="2506.05" font-family="Liberation Serif" font-size="105" textLength="151.13" lengthAdjust="spacingAndGlyphs">65%</text>
<text x="2660.62" y="0" font-family="Liberation Serif, Noto Serif CJK SC, serif" font-size="100">。</text>
</g>
<path d="M163.7 946.3L509 946.4" stroke="#383838" stroke-width="2.24"/>
<path d="M164.2 1238.8L336.5 1238.8" stroke="#383838" stroke-width="2.24"/>
<path d="M336.5 1238.8L509 1238.8" stroke="#383838" stroke-width="2.69"/>
<path d="M179.4 946.3L179.4 1238.8" stroke="#383838" stroke-width="2.8"/>
<path d="M494.7 946.3L494.7 1238.8" stroke="#383838" stroke-width="1.68"/>
<path d="M336.5 937L336.5 1244.4" stroke="#666" stroke-width="0.9" stroke-dasharray="22 2.5 3 2.5"/>
<path d="M181 1034.9L262.6 1034.9" stroke="#383838" stroke-width="1.57"/>
<path d="M181 1151.9L262.6 1151.9" stroke="#383838" stroke-width="1.57"/>
<path d="M264.2 978L264.2 1167.5" stroke="#383838" stroke-width="3.36"/>
<path d="M262.7 978.6L336.5 978.6" stroke="#909090" stroke-width="2.46"/>
<path d="M262.7 1165.8L336.5 1165.8" stroke="#383838" stroke-width="4.03"/>
<path d="M262.6 1170.4L182.4 1177.7L182.4 1206.7L266.6 1219.5" stroke="#383838" stroke-width="1.46" fill="none"/>
<path d="M262.6 1170.4L323.2 1170.4" stroke="#383838" stroke-width="1.57"/>
<path d="M264.2 1167L264.2 1218.5" stroke="#383838" stroke-width="3.36"/>
<path d="M265.5 1219.5L336.5 1219.5" stroke="#383838" stroke-width="1.68"/>
<path d="M265.7 1217.6H280.5C286.5 1217.6 285.8 1197.7 293.5 1197.7H321.5C328 1197.7 327 1217.6 336.5 1217.6" stroke="#383838" stroke-width="2.24" fill="none"/>
<path d="M323.2 1170.4L323.2 1191.4L307.8 1191.4L307.8 1197.7" stroke="#383838" stroke-width="1.34" fill="none"/>
<rect x="312.2" y="1190.2" width="6.6" height="13.2" fill="#777" stroke="#383838" stroke-width="1"/>
<path d="M315.5 1188L315.5 1204" stroke="#ddd" stroke-width="0.67"/>
<path d="M329 1167.5L329 1199.5" stroke="#383838" stroke-width="1.34" fill="none"/>
<path d="M326 1199.5H336.5M330.2 1199.5V1209.4H336.5" stroke="#383838" stroke-width="1.34" fill="none"/>
<path d="M336.5 1041.7L283.6 1041.7L283.6 1144.4L336.5 1144.4" stroke="#383838" stroke-width="1.57" fill="none"/>
<path d="M287.2 1041.7C287.2 1031 291 1026.3 299 1026.3H336.5" stroke="#383838" stroke-width="1.57" fill="none"/>
<path d="M287.2 1144.4C287.2 1155.5 291 1160.3 300 1160.3H336.5" stroke="#383838" stroke-width="1.57" fill="none"/>
<path d="M322 1024.6L336.5 1024.6" stroke="#383838" stroke-width="3.58"/>
<path d="M279.2 1164.5L287.9 1153.2" stroke="#383838" stroke-width="1.23"/>
<path d="M285.5 1155.5L285.5 1170" stroke="#5a5a5a" stroke-width="0.78"/>
<circle cx="274.9" cy="1100.8" r="7.2" stroke="#383838" stroke-width="1.68" fill="none"/>
<circle cx="274.9" cy="1100.8" r="3.8" stroke="#383838" stroke-width="1.46" fill="none"/>
<circle cx="274.9" cy="1100.8" r="2.1" stroke="#5a5a5a" stroke-width="0.78" fill="none"/>
<path d="M274.9 1090.5L274.9 1111" stroke="#666" stroke-width="0.56"/>
<path d="M266 1100.8L283 1100.8" stroke="#666" stroke-width="0.56"/>
<path d="M282.9 1092.4L282.9 1108.3" stroke="#383838" stroke-width="2.24"/>
<circle cx="165.5" cy="1107.8" r="8.9" stroke="#383838" stroke-width="2.13" fill="none"/>
<circle cx="165.5" cy="1107.8" r="4" stroke="#383838" stroke-width="1.57" fill="none"/>
<path d="M165.5 1097L165.5 1119" stroke="#666" stroke-width="0.56"/>
<path d="M155 1107.8L176 1107.8" stroke="#666" stroke-width="0.56"/>
<path d="M176.6 1085.2L176.6 1131.3" stroke="#383838" stroke-width="2.69"/>
<path d="M174.3 1098L174.3 1118" stroke="#383838" stroke-width="1.79"/>
<circle cx="336.8" cy="1002.5" r="16.9" stroke="#383838" stroke-width="1.79" fill="none"/>
<path d="M336.5 983.1L317.4 983.1L317.4 1005.5" stroke="#383838" stroke-width="1.79" fill="none"/>
<path d="M320 1008.3L356 1008.3" stroke="#666" stroke-width="0.67"/>
<path d="M282.4 995L314.7 987.8" stroke="#383838" stroke-width="1.9" fill="none"/>
<path d="M281.8 1009.3L319 1009.3" stroke="#383838" stroke-width="1.9" fill="none"/>
<path d="M284.5 995L284.5 1009.3" stroke="#383838" stroke-width="1.34"/>
<path d="M311 989.2L311 1005.6" stroke="#383838" stroke-width="1.23"/>
<path d="M315.2 983.5L315.2 1006" stroke="#383838" stroke-width="1.46"/>
<rect x="312" y="1004.3" width="8.2" height="5.8" fill="#383838"/>
<path d="M307.8 1010.5V1015.5H312V1018.2H317V1022H322V1010" stroke="#383838" stroke-width="1.12" fill="none"/>
<circle cx="336.8" cy="1092.5" r="16.7" stroke="#383838" stroke-width="1.57" fill="none"/>
<path d="M336.5 1075.4L319.5 1075.4L319.5 1109.7L336.5 1109.7" stroke="#383838" stroke-width="1.57" fill="none"/>
<path d="M316.8 1092.4L356.6 1092.4" stroke="#666" stroke-width="0.67" stroke-dasharray="12 2 2 2"/>
<path d="M443.4 987.7L520.3 987.7L520.3 973.1" stroke="#383838" stroke-width="2.46" fill="none"/>
<path d="M443.4 1196.9L520.3 1196.9L520.3 1212.2" stroke="#383838" stroke-width="2.46" fill="none"/>
<path d="M145.6 946.3L163.7 946.3" stroke="#666" stroke-width="0.78"/>
<path d="M145.6 1238.8L164.2 1238.8" stroke="#666" stroke-width="0.78"/>
<path d="M145.6 946.3L145.6 1238.8" stroke="#666" stroke-width="0.78"/>
<path d="M145.6 946.3L147.1 955.8L144.1 955.8z" fill="#666"/>
<path d="M145.6 1238.8L144.1 1229.3L147.1 1229.3z" fill="#666"/>
<text transform="translate(143.8 1102.6) rotate(-90)" font-family="Liberation Serif" font-size="15.5" textLength="22.2" lengthAdjust="spacingAndGlyphs" fill="#858585">760</text>
<path d="M172.6 898.8L172.6 966.2" stroke="#666" stroke-width="0.78"/>
<path d="M172.6 945.3L171.2 936.8L174 936.8z" fill="#666"/>
<path d="M172.6 948.8L174 957.3L171.2 957.3z" fill="#666"/>
<text transform="translate(172.6 923) rotate(-90)" font-family="Liberation Serif" font-size="15.5" textLength="25" lengthAdjust="spacingAndGlyphs" fill="#858585">2.5</text>
<path d="M182.4 1206.7L182.4 1256" stroke="#666" stroke-width="0.78"/>
<path d="M491.1 1216.5L491.1 1256" stroke="#666" stroke-width="0.78"/>
<path d="M182.4 1254.3L491.1 1254.3" stroke="#666" stroke-width="0.78"/>
<path d="M182.4 1254.3L191.9 1252.8L191.9 1255.8z" fill="#666"/>
<path d="M491.1 1254.3L481.6 1255.8L481.6 1252.8z" fill="#666"/>
<path d="M179.3 1238.8L179.3 1275.5" stroke="#666" stroke-width="0.78"/>
<path d="M494.9 1238.8L494.9 1275.5" stroke="#666" stroke-width="0.78"/>
<path d="M179.3 1273.7L494.9 1273.7" stroke="#666" stroke-width="0.78"/>
<path d="M179.3 1273.7L188.8 1272.2L188.8 1275.2z" fill="#666"/>
<path d="M494.9 1273.7L485.4 1275.2L485.4 1272.2z" fill="#666"/>
<path d="M164.6 1239.8L164.6 1293.5" stroke="#666" stroke-width="0.78"/>
<path d="M509.6 1239.8L509.6 1293.5" stroke="#666" stroke-width="0.78"/>
<path d="M164.6 1291.6L509.6 1291.6" stroke="#666" stroke-width="0.78"/>
<path d="M164.6 1291.6L174.1 1290.1L174.1 1293.1z" fill="#666"/>
<path d="M509.6 1291.6L500.1 1293.1L500.1 1290.1z" fill="#666"/>
<text transform="translate(344 1256) rotate(180)" font-family="Liberation Serif" font-size="15" textLength="22.5" lengthAdjust="spacingAndGlyphs" fill="#777">784</text>
<ellipse cx="349" cy="1261.2" rx="3.4" ry="3" stroke="#777" stroke-width="0.9" fill="none"/>
<path d="M347.3 1266.2L350.7 1256.2" stroke="#777" stroke-width="1.01"/>
<text transform="translate(344 1275.2) rotate(180)" font-family="Liberation Serif" font-size="15" textLength="22.5" lengthAdjust="spacingAndGlyphs" fill="#777">810</text>
<ellipse cx="349" cy="1280.4" rx="3.4" ry="3" stroke="#777" stroke-width="0.9" fill="none"/>
<path d="M347.3 1285.4L350.7 1275.4" stroke="#777" stroke-width="1.01"/>
<text transform="translate(344 1292.2) rotate(180)" font-family="Liberation Serif" font-size="15" textLength="22.5" lengthAdjust="spacingAndGlyphs" fill="#777">880</text>
<ellipse cx="349" cy="1297.4" rx="3.4" ry="3" stroke="#777" stroke-width="0.9" fill="none"/>
<path d="M347.3 1302.4L350.7 1292.4" stroke="#777" stroke-width="1.01"/>
<path d="M506.2 981L537.2 981" stroke="#666" stroke-width="0.78"/>
<path d="M506.2 1204.6L537.2 1204.6" stroke="#666" stroke-width="0.78"/>
<path d="M530 981L530 1204.6" stroke="#666" stroke-width="0.78"/>
<path d="M530 981L531.5 990.5L528.5 990.5z" fill="#666"/>
<path d="M530 1204.6L528.5 1195.1L531.5 1195.1z" fill="#666"/>
<path d="M521 973.1L554.4 973.1" stroke="#666" stroke-width="0.78"/>
<path d="M521 1212.2L554.4 1212.2" stroke="#666" stroke-width="0.78"/>
<path d="M552.5 973.1L552.5 1212.2" stroke="#666" stroke-width="0.78"/>
<path d="M552.5 973.1L554 982.6L551 982.6z" fill="#666"/>
<path d="M552.5 1212.2L551 1202.7L554 1202.7z" fill="#666"/>
<text transform="translate(529.6 1104.5) rotate(-90)" font-family="Liberation Serif" font-size="15.5" textLength="24" lengthAdjust="spacingAndGlyphs" fill="#858585">575</text>
<text transform="translate(552.2 1104.5) rotate(-90)" font-family="Liberation Serif" font-size="15.5" textLength="24" lengthAdjust="spacingAndGlyphs" fill="#858585">615</text>
<path d="M494.7 923.7L494.7 946.3" stroke="#666" stroke-width="0.78"/>
<path d="M509.2 923.7L509.2 946.3" stroke="#666" stroke-width="0.78"/>
<path d="M475 924.9L518.6 924.9" stroke="#666" stroke-width="0.78"/>
<path d="M494.7 924.9L485.2 926.4L485.2 923.4z" fill="#666"/>
<path d="M509.2 924.9L518.7 923.4L518.7 926.4z" fill="#666"/>
<g transform="translate(576 927) rotate(180) scale(0.1350 0.1350)" fill="#777" stroke="#777" stroke-width="1.63">
<text x="-2.59 92.22" y="0" font-family="Liberation Serif, Noto Serif CJK SC, serif" font-size="100">法兰</text>
</g>
<text transform="translate(549.5 927) rotate(180)" font-family="Liberation Serif" font-size="15" textLength="22" lengthAdjust="spacingAndGlyphs" fill="#777">35</text>
<rect x="364.6" y="875.9" width="12" height="46.5" stroke="#555" stroke-width="1.1"/>
<path d="M364.6 904.1L376.6 904.1" stroke="#555" stroke-width="1.12"/>
<path d="M364.6 912.9L376.6 912.9" stroke="#555" stroke-width="1.12"/>
<path d="M370.7 922.4L370.7 946.3" stroke="#5a5a5a" stroke-width="1.01"/>
<text transform="translate(373.6 901.5) rotate(-90)" font-family="Liberation Sans" font-size="7" textLength="23" lengthAdjust="spacingAndGlyphs" fill="#aaa">0.4 A</text>
<rect x="388" y="1253.5" width="12" height="46.1" stroke="#555" stroke-width="1.1"/>
<path d="M388 1264.3L400 1264.3" stroke="#555" stroke-width="1.12"/>
<path d="M388 1281L400 1281" stroke="#555" stroke-width="1.12"/>
<path d="M388 1290L400 1290" stroke="#555" stroke-width="1.12"/>
<path d="M393.3 1238.8L393.3 1253.5" stroke="#5a5a5a" stroke-width="1.01"/>
<text transform="translate(397 1279.5) rotate(-90)" font-family="Liberation Sans" font-size="7" textLength="12" lengthAdjust="spacingAndGlyphs" fill="#b0b0b0">0.1</text>
<rect x="536.5" y="1147.3" width="11.9" height="41.8" stroke="#555" stroke-width="1.1"/>
<path d="M536.5 1158L548.4 1158" stroke="#555" stroke-width="1.12"/>
<path d="M536.5 1173.6L548.4 1173.6" stroke="#555" stroke-width="1.12"/>
<path d="M542.5 1189.1V1207.4H523" stroke="#666" stroke-width="0.9" fill="none"/>
<path d="M522.2 1207.4L530.7 1206L530.7 1208.8z" fill="#666"/>
<path d="M538 1187.5L541.5 1175.5" stroke="#5a5a5a" stroke-width="1.23"/>
<path d="M541.5 1187.5L545 1175.5" stroke="#5a5a5a" stroke-width="1.23"/>
<text transform="translate(545.5 1171.5) rotate(-90)" font-family="Liberation Sans" font-size="7" textLength="11" lengthAdjust="spacingAndGlyphs" fill="#b0b0b0">0.1</text>
<text transform="translate(545.5 1156.5) rotate(-90)" font-family="Liberation Sans" font-size="7" textLength="5" lengthAdjust="spacingAndGlyphs" fill="#b0b0b0">A</text>
<text transform="translate(132.3 905.5) rotate(-90)" font-family="Liberation Serif" font-size="15" textLength="8.5" lengthAdjust="spacingAndGlyphs" fill="#858585">4</text>
<path d="M133.9 893.3L133.9 909.8" stroke="#666" stroke-width="0.78"/>
<path d="M133.9 909.8L169.2 944.1" stroke="#666" stroke-width="0.78"/>
<path d="M169.2 944.1L161.34 938.56L163.43 936.4z" fill="#666"/>
<text transform="translate(194.2 932.8) rotate(-90)" font-family="Liberation Serif" font-size="15" textLength="8.5" lengthAdjust="spacingAndGlyphs" fill="#858585">6</text>
<path d="M195.8 923.1L195.8 935.3" stroke="#666" stroke-width="0.78"/>
<path d="M195.8 935.3L238.9 1055.7" stroke="#666" stroke-width="0.78"/>
<path d="M238.9 1055.7L234.29 1047.26L237.11 1046.25z" fill="#666"/>
<text transform="translate(216.8 920) rotate(-90)" font-family="Liberation Serif" font-size="15" textLength="8.5" lengthAdjust="spacingAndGlyphs" fill="#858585">7</text>
<path d="M218.8 909.8L218.8 923.1" stroke="#666" stroke-width="0.78"/>
<path d="M218.8 923.1L260.3 982.8" stroke="#666" stroke-width="0.78"/>
<path d="M260.3 982.8L253.65 975.86L256.11 974.14z" fill="#666"/>
<text transform="translate(241.6 920) rotate(-90)" font-family="Liberation Serif" font-size="15" textLength="8.5" lengthAdjust="spacingAndGlyphs" fill="#858585">5</text>
<path d="M243.3 909.8L243.3 923.1" stroke="#666" stroke-width="0.78"/>
<path d="M243.3 923.1L293.2 1006" stroke="#666" stroke-width="0.78"/>
<path d="M293.2 1006L287.02 998.63L289.59 997.09z" fill="#666"/>
<text transform="translate(132.2 1029.5) rotate(-90)" font-family="Liberation Serif" font-size="15" textLength="8.5" lengthAdjust="spacingAndGlyphs" fill="#858585">3</text>
<path d="M134.2 1018.7L134.2 1032.3" stroke="#666" stroke-width="0.78"/>
<path d="M134.2 1032.3L304.6 1133.7" stroke="#666" stroke-width="0.78"/>
<path d="M304.6 1133.7L295.67 1130.13L297.2 1127.55z" fill="#666"/>
<text transform="translate(132.2 1146.7) rotate(-90)" font-family="Liberation Serif" font-size="15" textLength="8.5" lengthAdjust="spacingAndGlyphs" fill="#858585">2</text>
<path d="M134.2 1135.9L134.2 1150.3" stroke="#666" stroke-width="0.78"/>
<path d="M134.2 1150.3L201 1203" stroke="#666" stroke-width="0.78"/>
<path d="M201 1203L192.61 1198.29L194.47 1195.94z" fill="#666"/>
<text transform="translate(132.2 1187.5) rotate(-90)" font-family="Liberation Serif" font-size="15" textLength="8.5" lengthAdjust="spacingAndGlyphs" fill="#858585">1</text>
<path d="M134.2 1177.3L134.2 1191.5" stroke="#666" stroke-width="0.78"/>
<path d="M134.2 1191.5L177.7 1237.4" stroke="#666" stroke-width="0.78"/>
<path d="M177.7 1237.4L170.08 1231.54L172.25 1229.47z" fill="#666"/>
<text transform="translate(399 907.6) rotate(-90)" font-family="Liberation Serif" font-size="15" textLength="9" lengthAdjust="spacingAndGlyphs" fill="#666">8</text>
<path d="M401.9 897.4L401.9 911.6" stroke="#5a5a5a" stroke-width="1.46"/>
<path d="M401.9 911.6L469.4 985.4" stroke="#5a5a5a" stroke-width="1.46"/>
<path d="M469.9 986L462.31 980.07L464.67 977.91z" fill="#5a5a5a"/>
<path d="M269.5 873.9L269.5 929.5" stroke="#383838" stroke-width="1.68"/>
<path d="M269.5 929.5L335.5 1097.7" stroke="#383838" stroke-width="1.68"/>
<path d="M310 889L310 929.5" stroke="#383838" stroke-width="1.68"/>
<path d="M310 929.5L333.6 1006.5" stroke="#383838" stroke-width="1.68"/>
<g transform="translate(265.6 931.4) rotate(-90) scale(0.0920 0.0920)" fill="#555" stroke="#555" stroke-width="2.39">
<text x="3.8 111.41 219.02 326.63 434.24" y="0" font-family="Liberation Serif, Noto Serif CJK SC, serif" font-size="100">冷风出气管</text>
</g>
<g transform="translate(306.6 931.4) rotate(-90) scale(0.0920 0.0920)" fill="#555" stroke="#555" stroke-width="2.39">
<text x="3.26 109.78 216.3 322.83 429.35" y="0" font-family="Liberation Serif, Noto Serif CJK SC, serif" font-size="100">冷风出气管</text>
</g>
<g transform="translate(163 1054.2) rotate(-90) scale(0.0920 0.0920)" fill="#4a4a4a" stroke="#4a4a4a" stroke-width="0.25">
<text x="3.53 110.6 217.66 324.73 431.79" y="0" font-family="Liberation Serif, Noto Serif CJK SC, serif" font-size="100">吊环补强板</text>
</g>
<path d="M159.2 1053.9L176.4 1085.2" stroke="#383838" stroke-width="1.46"/>
<g transform="translate(161.5 1085.3) rotate(-90) scale(0.0840 0.0840)" fill="#4a4a4a" stroke="#4a4a4a" stroke-width="0.25">
<text x="-0.6 98.21" y="0" font-family="Liberation Serif, Noto Serif CJK SC, serif" font-size="100">吊环</text>
</g>
<path d="M156.9 1085.2L162.6 1098.4" stroke="#383838" stroke-width="1.46"/>
<path d="M602.8 946.9L950.2 947.2" stroke="#383838" stroke-width="2.24"/>
<path d="M602.8 1239.5L950.2 1239.8" stroke="#383838" stroke-width="2.24"/>
<path d="M618.6 946.9L618.6 1239.5" stroke="#383838" stroke-width="2.13"/>
<path d="M935.1 946.9L935.1 1239.5" stroke="#383838" stroke-width="2.13"/>
<path d="M776.7 938.5L776.7 1245.4" stroke="#666" stroke-width="0.9" stroke-dasharray="22 2.5 3 2.5"/>
<path d="M618.6 989.6L702.6 989.6" stroke="#383838" stroke-width="1.46"/>
<path d="M618.6 1024.8L702.6 1024.8" stroke="#383838" stroke-width="1.46"/>
<path d="M618.6 1035.3L702.6 1035.3" stroke="#383838" stroke-width="1.46"/>
<path d="M618.6 1152.5L702.6 1152.5" stroke="#383838" stroke-width="1.46"/>
<path d="M850.4 1035.3L935.1 1035.3" stroke="#383838" stroke-width="1.46"/>
<path d="M850.4 1076.2L935.1 1076.2" stroke="#383838" stroke-width="1.46"/>
<path d="M850.4 1110.9L935.1 1110.9" stroke="#383838" stroke-width="1.46"/>
<path d="M850.4 1152.5L935.1 1152.5" stroke="#383838" stroke-width="1.46"/>
<path d="M619.4 989.6C621.8 997 621.8 1017 619.4 1024.8" stroke="#999" stroke-width="0.78" fill="none"/>
<path d="M849.6 1076.2C847.2 1085 847.2 1102 849.6 1110.9" stroke="#999" stroke-width="0.78" fill="none"/>
<path d="M934.3 1076.2C936.7 1085 936.7 1102 934.3 1110.9" stroke="#999" stroke-width="0.78" fill="none"/>
<path d="M703.7 980L703.7 1218.5" stroke="#383838" stroke-width="3.14"/>
<path d="M849.4 980L849.4 1218.5" stroke="#383838" stroke-width="3.14"/>
<path d="M702.7 980.6L850.4 980.6" stroke="#8a8a8a" stroke-width="2.46"/>
<path d="M702.4 1167L850.8 1167" stroke="#383838" stroke-width="4.26"/>
<rect x="722.6" y="1043.0" width="108.3" height="102.5" stroke="#383838" stroke-width="1.4"/>
<path d="M726.4 1043C726.4 1032 730 1027.3 738 1027.3H815.5C823.5 1027.3 827 1032 827 1043" stroke="#383838" stroke-width="1.57" fill="none"/>
<path d="M726.4 1145.5C726.4 1156 730 1160.7 738 1160.7H815.5C823.5 1160.7 827 1156 827 1145.5" stroke="#383838" stroke-width="1.57" fill="none"/>
<path d="M719.4 1165L726.6 1156.3" stroke="#383838" stroke-width="1.12"/>
<path d="M834 1165L826.9 1156.3" stroke="#383838" stroke-width="1.12"/>
<path d="M726 1157.5L726 1171.5" stroke="#5a5a5a" stroke-width="0.67"/>
<path d="M827.4 1157.5L827.4 1171.5" stroke="#5a5a5a" stroke-width="0.67"/>
<path d="M776.7 985.5L754.5 985.5L752 989.4L721.8 995.8" stroke="#383838" stroke-width="2.13" fill="none"/>
<path d="M776.7 985.5L798.9 985.5L801.4 989.4L831.6 995.8" stroke="#383838" stroke-width="2.13" fill="none"/>
<path d="M723.4 995.8L723.4 1010.9" stroke="#383838" stroke-width="1.34"/>
<path d="M721.5 1010.9L763.2 1010.9" stroke="#383838" stroke-width="2.13"/>
<path d="M749.7 990.2L752.1 1007.7" stroke="#383838" stroke-width="1.23"/>
<rect x="750.2" y="1005.0" width="5.6" height="5.6" fill="#383838"/>
<path d="M747.6 1011.5V1017.2H752.3V1020.5H757.3V1011.5" stroke="#383838" stroke-width="1.12" fill="none"/>
<path d="M754.8 1012L754.8 1020" stroke="#5a5a5a" stroke-width="0.67"/>
<path d="M763.2 1010.9V1013.5H761.2V1025.3" stroke="#383838" stroke-width="1.23" fill="none"/>
<path d="M768.8 1012L768.8 1025.3" stroke="#383838" stroke-width="1.23"/>
<path d="M773 1012L773 1025.3" stroke="#383838" stroke-width="0.9"/>
<path d="M830 995.8L830 1010.9" stroke="#383838" stroke-width="1.34"/>
<path d="M831.9 1010.9L790.2 1010.9" stroke="#383838" stroke-width="2.13"/>
<path d="M803.7 990.2L801.3 1007.7" stroke="#383838" stroke-width="1.23"/>
<rect x="797.6" y="1005.0" width="5.6" height="5.6" fill="#383838"/>
<path d="M805.8 1011.5V1017.2H801.1V1020.5H796.1V1011.5" stroke="#383838" stroke-width="1.12" fill="none"/>
<path d="M798.6 1012L798.6 1020" stroke="#5a5a5a" stroke-width="0.67"/>
<path d="M790.2 1010.9V1013.5H792.2V1025.3" stroke="#383838" stroke-width="1.23" fill="none"/>
<path d="M784.6 1012L784.6 1025.3" stroke="#383838" stroke-width="1.23"/>
<path d="M780.4 1012L780.4 1025.3" stroke="#383838" stroke-width="0.9"/>
<path d="M760 1025.9L793.4 1025.9" stroke="#383838" stroke-width="2.02"/>
<path d="M763.2 1011.5L790.2 1011.5" stroke="#383838" stroke-width="1.12"/>
<path d="M702.6 1170.4L623.5 1178L621.3 1180.5L621.3 1205.5L623.5 1208L702.6 1219.2" stroke="#383838" stroke-width="1.46" fill="none"/>
<path d="M850.8 1170.4L929.9 1178L932.1 1180.5L932.1 1205.5L929.9 1208L850.8 1219.2" stroke="#383838" stroke-width="1.46" fill="none"/>
<path d="M702.6 1220.6L850.8 1220.6" stroke="#383838" stroke-width="1.68"/>
<path d="M702.6 1171.4L762.4 1171.4" stroke="#383838" stroke-width="1.34"/>
<path d="M791 1171.4L850.8 1171.4" stroke="#383838" stroke-width="1.34"/>
<path d="M705 1218.3H721.5C728.5 1218.3 725 1199.2 732.5 1199.2H762" stroke="#383838" stroke-width="2.24" fill="none"/>
<path d="M848.4 1218.3H831.9C824.9 1218.3 828.4 1199.2 820.9 1199.2H791.4" stroke="#383838" stroke-width="2.24" fill="none"/>
<path d="M762.4 1169V1192.1H748.1V1199.5" stroke="#383838" stroke-width="1.34" fill="none"/>
<path d="M769.6 1169L769.6 1201.6" stroke="#383838" stroke-width="1.23"/>
<rect x="751.5" y="1191.2" width="5.6" height="13.2" fill="#6a6a6a" stroke="#383838" stroke-width="0.9"/>
<path d="M754.3 1188.5L754.3 1204.5" stroke="#ddd" stroke-width="0.67"/>
<path d="M762 1199.2L766.4 1204.8" stroke="#383838" stroke-width="1.79" fill="none"/>
<path d="M791 1169V1192.1H805.3V1199.5" stroke="#383838" stroke-width="1.34" fill="none"/>
<path d="M783.8 1169L783.8 1201.6" stroke="#383838" stroke-width="1.23"/>
<rect x="796.3" y="1191.2" width="5.6" height="13.2" fill="#6a6a6a" stroke="#383838" stroke-width="0.9"/>
<path d="M799.1 1188.5L799.1 1204.5" stroke="#ddd" stroke-width="0.67"/>
<path d="M791.4 1199.2L787 1204.8" stroke="#383838" stroke-width="1.79" fill="none"/>
<path d="M766.4 1204.8C766.4 1213 770 1218.3 776.7 1218.3C783.4 1218.3 787 1213 787 1204.8" stroke="#383838" stroke-width="2.02" fill="none"/>
<path d="M769.6 1205C769.6 1211 772 1214.6 776.7 1214.6C781.4 1214.6 783.8 1211 783.8 1205" stroke="#383838" stroke-width="1.12" fill="none"/>
<path d="M766.4 1204.8L787 1204.8" stroke="#383838" stroke-width="1.12"/>
<path d="M769.6 1211.2L783.8 1211.2" stroke="#383838" stroke-width="0.9"/>
</svg>
</body></html>
